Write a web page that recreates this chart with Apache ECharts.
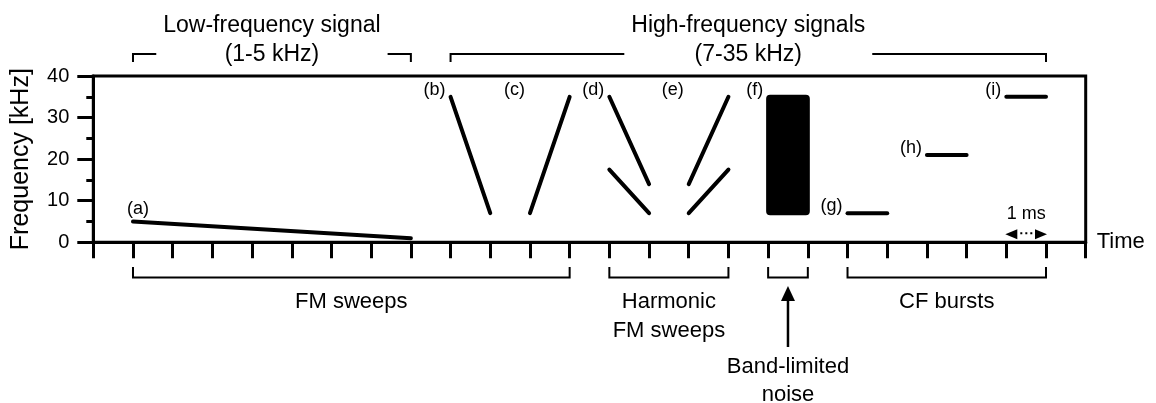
<!DOCTYPE html>
<html>
<head>
<meta charset="utf-8">
<script src="https://cdn.jsdelivr.net/npm/echarts@6/dist/echarts.min.js"></script>
<style>
  html, body { margin: 0; padding: 0; background: #fff; }
  #chart { width: 1156px; height: 403px; }
</style>
</head>
<body>
<div id="chart"></div>
<script>
// Stimulus segments: [time (ms), frequency (kHz)]
const sweepA = [[1, 5], [8, 1]];
const sweepB = [[9, 35], [10, 7]];
const sweepC = [[11, 7], [12, 35]];
const harmonicD2 = [[13, 35], [14, 14]];
const harmonicD1 = [[13, 17.5], [14, 7]];
const harmonicE2 = [[15, 14], [16, 35]];
const harmonicE1 = [[15, 7], [16, 17.5]];
// Band-limited noise block: [start, end, low freq, high freq]
const noiseBand = [[17, 18, 7, 35]];
const cfG = [[19, 7], [20, 7]];
const cfH = [[21, 21], [22, 21]];
const cfI = [[23, 35], [24, 35]];

// Stimulus tags, anchored at [time, frequency]
const tagNames = ['(a)', '(b)', '(c)', '(d)', '(e)', '(f)', '(g)', '(h)', '(i)'];
const tagTimes = [1, 9, 11, 13, 15, 17, 19, 21, 23];
const tagFreqs = [5, 35, 35, 35, 35, 35, 7, 21, 35];

const yTicks = [0, 10, 20, 30, 40];

// Groupings above and below the time axis
const topGroups = [
  { lines: ['Low-frequency signal', '(1-5 kHz)'], from: 1, to: 8 },
  { lines: ['High-frequency signals', '(7-35 kHz)'], from: 9, to: 24 }
];
const bottomGroups = [
  { lines: ['FM sweeps'], from: 1, to: 12 },
  { lines: ['Harmonic', 'FM sweeps'], from: 13, to: 16 },
  { lines: ['Band-limited', 'noise'], from: 17, to: 18, arrow: true },
  { lines: ['CF bursts'], from: 19, to: 24 }
];
const scaleBar = { from: 23, to: 24, text: '1 ms' };

const FONT = '"Liberation Sans", Arial, Helvetica, sans-serif';
const chart = echarts.init(document.getElementById('chart'), null, { renderer: 'canvas' });

function seg(name, data) {
  return {
    name: name,
    type: 'line',
    data: data,
    symbol: 'none',
    silent: true,
    animation: false,
    lineStyle: { color: '#000', width: 4, cap: 'round' }
  };
}

const option = {
  animation: false,
  backgroundColor: '#fff',
  grid: {
    left: 93.3, right: 70.3, top: 76, bottom: 160.7,
    show: true, borderColor: '#000', borderWidth: 3, backgroundColor: 'transparent'
  },
  xAxis: {
    type: 'value', min: 0, max: 25, interval: 1,
    name: 'Time', nameLocation: 'end', nameGap: 11,
    nameTextStyle: { color: '#000', fontSize: 22, fontFamily: FONT },
    axisLine: { lineStyle: { color: '#000', width: 3 } },
    axisTick: { show: true, length: 16, lineStyle: { color: '#000', width: 3 } },
    axisLabel: { show: false },
    splitLine: { show: false }
  },
  yAxis: {
    type: 'value', min: yTicks[0], max: yTicks[yTicks.length - 1], interval: yTicks[1] - yTicks[0],
    name: 'Frequency [kHz]', nameLocation: 'middle', nameGap: 60, nameRotate: 90,
    nameTextStyle: { color: '#000', fontSize: 25, fontFamily: FONT },
    axisLine: { show: true, lineStyle: { color: '#000', width: 3 } },
    axisTick: { show: true, length: 16, lineStyle: { color: '#000', width: 3 } },
    minorTick: { show: true, splitNumber: 2, length: 7, lineStyle: { color: '#000', width: 3 } },
    axisLabel: { color: '#000', fontSize: 20, fontFamily: FONT, margin: 24 },
    splitLine: { show: false }, minorSplitLine: { show: false }
  },
  series: [
    seg('a', sweepA),
    seg('b', sweepB),
    seg('c', sweepC),
    seg('d2', harmonicD2),
    seg('d1', harmonicD1),
    seg('e2', harmonicE2),
    seg('e1', harmonicE1),
    {
      name: 'f', type: 'custom', silent: true, data: noiseBand,
      renderItem: function (params, api) {
        const p0 = api.coord([api.value(0), api.value(3)]);
        const p1 = api.coord([api.value(1), api.value(2)]);
        return {
          type: 'rect',
          shape: { x: p0[0], y: p0[1], width: p1[0] - p0[0], height: p1[1] - p0[1], r: 2 },
          style: { fill: '#000', stroke: '#000', lineWidth: 4, lineJoin: 'round' }
        };
      }
    },
    seg('g', cfG),
    seg('h', cfH),
    seg('i', cfI),
    {
      name: 'tags', type: 'scatter', symbolSize: 0, silent: true,
      itemStyle: { opacity: 1, color: '#000' },
      data: tagNames.map((n, i) => {
        const item = { name: n, value: [tagTimes[i], tagFreqs[i]] };
        // the low-frequency sweep carries its tag above its start
        if (i === 0) item.label = { position: 'top', distance: 5, offset: [5, 2] };
        return item;
      }),
      label: { show: true, formatter: '{b}', position: 'left', distance: 5, offset: [0, -7],
               color: '#000', fontSize: 18, fontFamily: FONT }
    }
  ]
};

chart.setOption(option);

// Text width helper for sizing the bracket gaps around the titles
const measureCtx = document.createElement('canvas').getContext('2d');
function textWidth(str, size) {
  measureCtx.font = size + 'px ' + FONT;
  return measureCtx.measureText(str).width;
}

function txt(str, x, y, size) {
  return {
    type: 'text', silent: true,
    style: { text: str, x: x, y: y, fill: '#000', font: size + 'px ' + FONT,
             align: 'center', verticalAlign: 'middle',
             textAlign: 'center', textVerticalAlign: 'middle' }
  };
}
function poly(points, width) {
  return { type: 'polyline', silent: true, shape: { points: points },
           style: { stroke: '#000', lineWidth: width, fill: null } };
}
function tri(points) {
  return { type: 'polygon', silent: true, shape: { points: points }, style: { fill: '#000' } };
}

function buildAnnotations() {
  const px = t => chart.convertToPixel({ xAxisIndex: 0 }, t);
  const py = f => chart.convertToPixel({ yAxisIndex: 0 }, f);
  const els = [];

  // Brackets and titles above the plot
  topGroups.forEach(g => {
    const x0 = px(g.from), x1 = px(g.to), cx = (x0 + x1) / 2;
    const half = textWidth(g.lines[0], 23) / 2 + 7;
    els.push(poly([[x0, 62], [x0, 54], [cx - half, 54]], 2));
    els.push(poly([[cx + half, 54], [x1, 54], [x1, 62]], 2));
    els.push(txt(g.lines[0], cx, 26, 23));
    els.push(txt(g.lines[1], cx, 54.5, 23));
  });

  // Brackets and category names below the time axis
  bottomGroups.forEach(g => {
    const x0 = px(g.from), x1 = px(g.to), cx = (x0 + x1) / 2;
    els.push(poly([[x0, 267], [x0, 277.5], [x1, 277.5], [x1, 267]], 2));
    if (g.arrow) {
      els.push(poly([[cx, 347], [cx, 298]], 2.5));
      els.push(tri([[cx, 286], [cx - 7, 301], [cx + 7, 301]]));
      els.push(txt(g.lines[0], cx, 367, 22));
      els.push(txt(g.lines[1], cx, 395, 22));
    } else {
      g.lines.forEach((l, i) => els.push(txt(l, cx, 302 + i * 29, 22)));
    }
  });

  // 1 ms scale bar
  const s0 = px(scaleBar.from), s1 = px(scaleBar.to), sy = py(0) - 8;
  els.push(tri([[s0 - 1, sy], [s0 + 11, sy - 5], [s0 + 11, sy + 5]]));
  els.push(tri([[s1 + 1, sy], [s1 - 11, sy - 5], [s1 - 11, sy + 5]]));
  els.push({ type: 'line', silent: true,
             shape: { x1: s0 + 14, y1: sy - 1, x2: s1 - 13, y2: sy - 1 },
             style: { stroke: '#000', lineWidth: 2, lineDash: [2, 3] } });
  els.push(txt(scaleBar.text, (s0 + s1) / 2, sy - 20, 18));

  chart.setOption({ graphic: { elements: els } });
}

buildAnnotations();
</script>
</body>
</html>
